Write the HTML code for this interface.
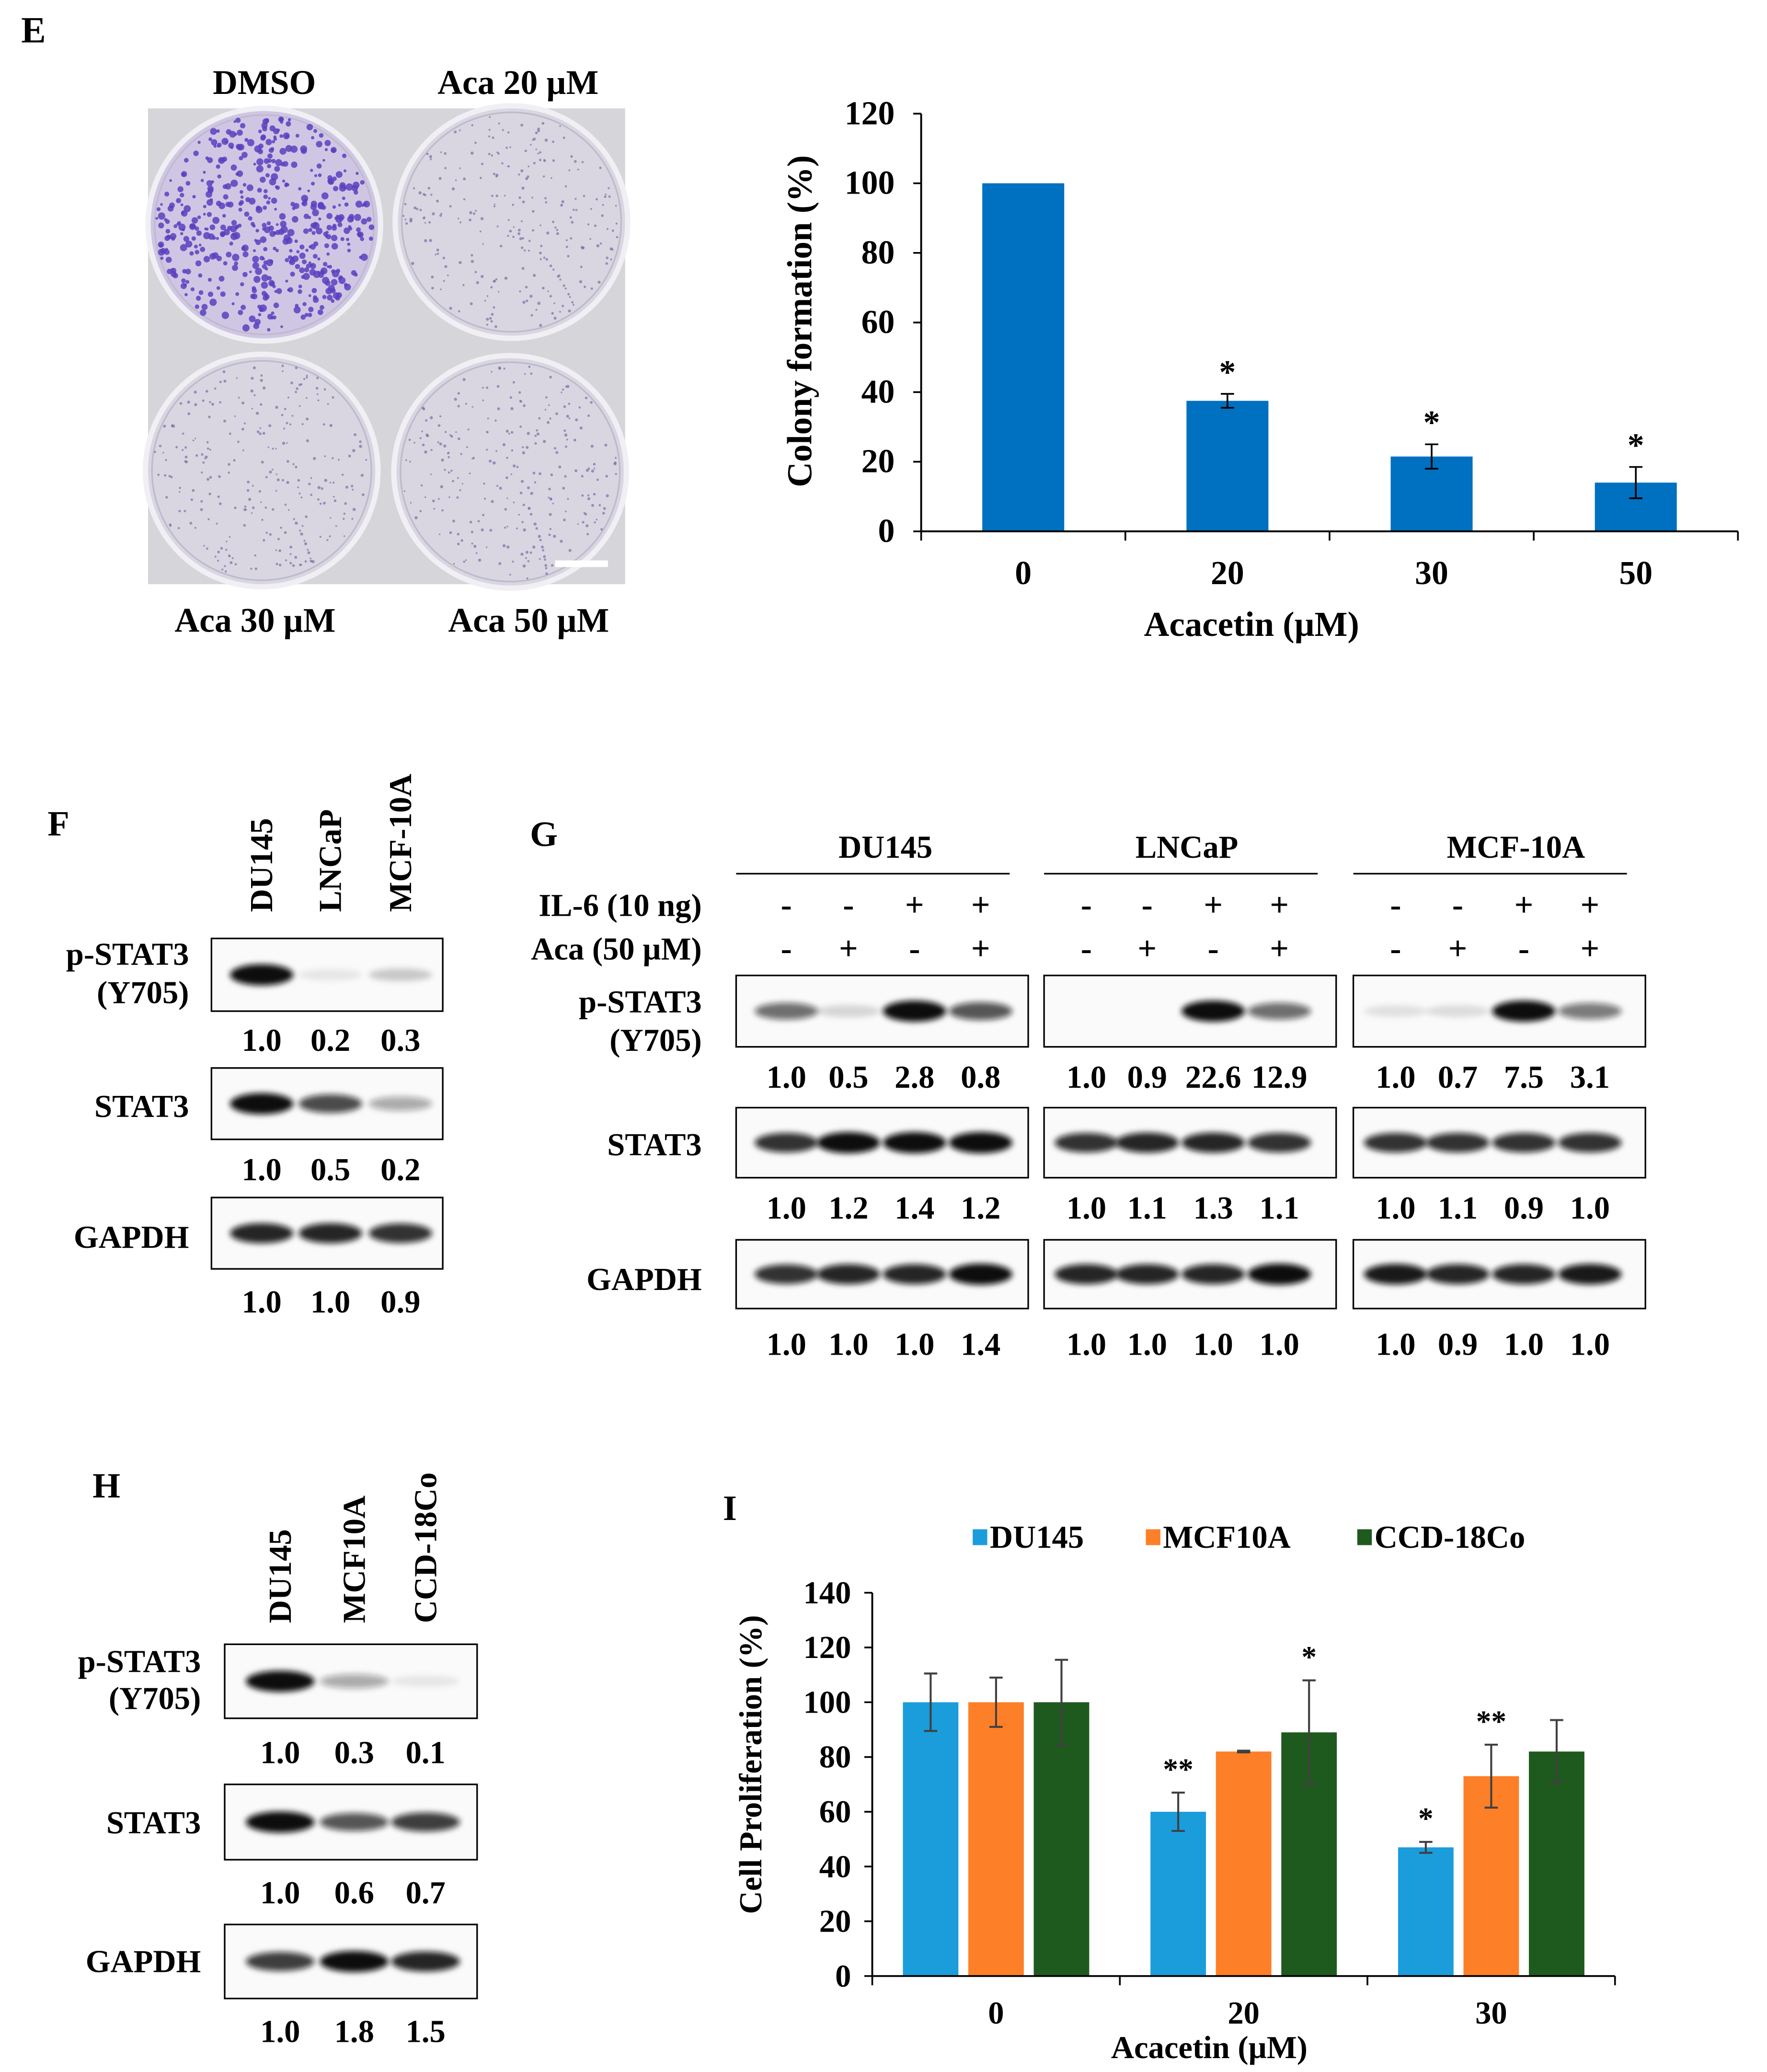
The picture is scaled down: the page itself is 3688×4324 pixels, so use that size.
<!DOCTYPE html>
<html><head><meta charset="utf-8"><style>
html,body{margin:0;padding:0;background:#fff;}
svg{display:block;}
text{font-family:"Liberation Serif",serif;font-weight:bold;fill:#000;}
</style></head><body>
<svg id="fig" width="3688" height="4324" viewBox="0 0 1337 1567.6" preserveAspectRatio="none" xmlns="http://www.w3.org/2000/svg">
<defs>
<filter id="blur" x="-50%" y="-200%" width="200%" height="500%"><feGaussianBlur stdDeviation="2.2"/></filter>
</defs>
<text x="16" y="32" font-size="28">E</text>
<g id="plate">
<rect x="112" y="82" width="361" height="360" fill="#d6d5da"/>
</g>
<text x="200" y="71" font-size="26" text-anchor="middle">DMSO</text>
<text x="392" y="71" font-size="26" text-anchor="middle">Aca 20 µM</text>
<text x="193" y="478" font-size="26" text-anchor="middle">Aca 30 µM</text>
<text x="400" y="478" font-size="26" text-anchor="middle">Aca 50 µM</text>
<g id="chartE"></g>
<text x="36" y="632" font-size="27">F</text>
<text x="401" y="640" font-size="27">G</text>
<text x="70" y="1133" font-size="27">H</text>
<text x="547" y="1150" font-size="27">I</text>
<g id="blots"></g>
<g id="chartI"></g>
</svg>
<script>
const NS="http://www.w3.org/2000/svg";
const FS=1.15;
function mk(parent,tag,attrs,txt){const e=document.createElementNS(NS,tag);for(const k in attrs){let v=attrs[k];if(k==='font-size')v=v*FS;e.setAttribute(k,v);}if(txt!==undefined)e.textContent=txt;parent.appendChild(e);return e;}

// ---------- Plate photo ----------
const plate=document.getElementById('plate');
const dishes=[[200,170,1],[387,168,0.25],[198,356,0.2],[386,357,0.22]];
let seed=7;function rnd(){seed=(seed*9301+49297)%233280;return seed/233280;}
dishes.forEach((d,i)=>{
  const c=mk(plate,'circle',{cx:d[0],cy:d[1],r:88,fill:d[2]>0.5?'#cfc6e4':'#d9d6e2',stroke:'#f0f0f4','stroke-width':4});
  
  
  mk(plate,'circle',{cx:d[0],cy:d[1],r:83,fill:'none',stroke:'#bfbacb','stroke-width':1.2});
  const n=d[2]>0.5?520:260;
  for(let k=0;k<n;k++){const a=rnd()*6.283,r=82*Math.sqrt(rnd());
    mk(plate,'circle',{cx:d[0]+r*Math.cos(a),cy:d[1]+r*Math.sin(a),r:d[2]>0.5?(1+rnd()*1.8):(0.6+rnd()*0.6),fill:d[2]>0.5?'#5c3fbf':'#7a6ea4','fill-opacity':d[2]>0.5?0.85:0.7});}
});
mk(plate,'rect',{x:420,y:424,width:40,height:5,fill:'#fff'});

// ---------- Chart E ----------
const eCats=['0','20','30','50'];
const eVals=[100,37.5,21.5,14];
const eErr=[0,2,3.5,4.5];
const eStars=['','*','*','*'];
const eTicks=[0,20,40,60,80,100,120];
(function(){
  const g=document.getElementById('chartE');
  const x0=697,x1=1315,y0=402,y1=86,ymax=120;
  const Y=v=>y0-(v/ymax)*(y0-y1);
  const step=(x1-x0)/eCats.length;const X=i=>x0+step*(i+0.5);
  eVals.forEach((v,i)=>{
    const b=mk(g,'rect',{x:X(i)-31,y:Y(v),width:62,height:y0-Y(v),fill:'#0070c0'});
    
    
    if(eErr[i]>0){mk(g,'path',{d:`M${X(i)},${Y(v+eErr[i])}V${Y(v-eErr[i])}M${X(i)-5},${Y(v+eErr[i])}H${X(i)+5}M${X(i)-5},${Y(v-eErr[i])}H${X(i)+5}`,stroke:'#000','stroke-width':1.3,fill:'none'});}
    if(eStars[i]){const s=mk(g,'text',{x:X(i),y:Y(v+eErr[i])-8,'font-size':22,'text-anchor':'middle'},eStars[i]);
      }
    const t=mk(g,'text',{x:X(i),y:442,'font-size':22,'text-anchor':'middle'},eCats[i]);
    
  });
  mk(g,'path',{d:`M${x0},${y1}V${y0}H${x1}`,stroke:'#000','stroke-width':1.4,fill:'none'});
  for(let i=0;i<=eCats.length;i++)mk(g,'line',{x1:x0+step*i,x2:x0+step*i,y1:y0,y2:y0+7,stroke:'#000','stroke-width':1.3});
  eTicks.forEach(t=>{mk(g,'line',{x1:x0-6,x2:x0,y1:Y(t),y2:Y(t),stroke:'#000','stroke-width':1.3});
    const l=mk(g,'text',{x:x0-20,y:Y(t)+8,'font-size':22,'text-anchor':'end'},t);
    });
  const yt=mk(g,'text',{x:0,y:0,'font-size':23,'text-anchor':'middle',transform:`translate(614,243) rotate(-90)`},'Colony formation (%)');
  
  const xt=mk(g,'text',{x:947,y:481,'font-size':23,'text-anchor':'middle'},'Acacetin (µM)');
  
})();

// ---------- Blots ----------
const bl=document.getElementById('blots');
function txt(x,y,s,size,anchor,name){const t=mk(bl,'text',{x:x,y:y,'font-size':size,'text-anchor':anchor||'middle'},s);return t;}
function box(x,y,w,h,lanes,ints,name,bw){
  const r=mk(bl,'rect',{x:x,y:y,width:w,height:h,fill:'#fafafa',stroke:'#000','stroke-width':1.2});
  
  lanes.forEach((lx,i)=>{if(ints[i]<=0.02)return;
    mk(bl,'ellipse',{cx:lx,cy:y+h/2,rx:bw||24,ry:4+4*Math.min(1,ints[i]),fill:'#111','fill-opacity':Math.min(1,ints[i]),filter:'url(#blur)'});});
}
// F
const fLanes=[198,250,303];
[['DU145',198],['LNCaP',250],['MCF-10A',303]].forEach(l=>{const t=txt(0,0,l[0],21,'start','lane-label');t.setAttribute('transform',`translate(${l[1]+8},690) rotate(-90)`);});
txt(143,730,'p-STAT3',21,'end','row-label-pstat3');txt(143,759,'(Y705)',21,'end','row-label-y705');
box(160,710,175,55,fLanes,[1,0.08,0.2],'blot-f-pstat3');
['1.0','0.2','0.3'].forEach((s,i)=>txt(fLanes[i],795,s,21,'middle','band-value'));
txt(143,845,'STAT3',21,'end','row-label-stat3');
box(160,808,175,54,fLanes,[1,0.75,0.35],'blot-f-stat3');
['1.0','0.5','0.2'].forEach((s,i)=>txt(fLanes[i],893,s,21,'middle','band-value'));
txt(143,944,'GAPDH',21,'end','row-label-gapdh');
box(160,906,175,54,fLanes,[0.9,0.9,0.85],'blot-f-gapdh');
['1.0','1.0','0.9'].forEach((s,i)=>txt(fLanes[i],993,s,21,'middle','band-value'));
// G
const gGroups=[{n:'DU145',x:557,lanes:[595,642,692,742],cx:670,
  p:[0.6,0.15,1,0.7],s:[0.85,1,1,1],g:[0.85,0.9,0.9,1],pv:['1.0','0.5','2.8','0.8'],sv:['1.0','1.2','1.4','1.2'],gv:['1.0','1.0','1.0','1.4']},
 {n:'LNCaP',x:790,lanes:[822,868,918,968],cx:898,
  p:[0,0,1,0.6],s:[0.85,0.9,0.9,0.85],g:[0.9,0.9,0.9,1],pv:['1.0','0.9','22.6','12.9'],sv:['1.0','1.1','1.3','1.1'],gv:['1.0','1.0','1.0','1.0']},
 {n:'MCF-10A',x:1024,lanes:[1056,1103,1153,1203],cx:1147,
  p:[0.1,0.12,1,0.55],s:[0.85,0.85,0.85,0.85],g:[0.95,0.9,0.9,0.95],pv:['1.0','0.7','7.5','3.1'],sv:['1.0','1.1','0.9','1.0'],gv:['1.0','0.9','1.0','1.0']}];
txt(531,693,'IL-6 (10 ng)',21,'end','row-label-il6');
txt(531,726,'Aca (50 µM)',21,'end','row-label-aca');
txt(531,766,'p-STAT3',21,'end','row-label-pstat3');txt(531,795,'(Y705)',21,'end','row-label-y705');
txt(531,874,'STAT3',21,'end','row-label-stat3');
txt(531,976,'GAPDH',21,'end','row-label-gapdh');
const il6=['-','-','+','+'],aca=['-','+','-','+'];
gGroups.forEach(G=>{
  txt(G.cx,649,G.n,21,'middle','group-header');
  mk(bl,'line',{x1:G.x,x2:G.x+207,y1:661,y2:661,stroke:'#000','stroke-width':1.2});
  G.lanes.forEach((lx,i)=>{txt(lx,693,il6[i],22,'middle','il6-sign');txt(lx,726,aca[i],22,'middle','aca-sign');});
  box(G.x,738,221,54,G.lanes,G.p,'blot-g-pstat3');
  G.pv.forEach((s,i)=>txt(G.lanes[i],823,s,21,'middle','band-value'));
  box(G.x,838,221,53,G.lanes,G.s,'blot-g-stat3');
  G.sv.forEach((s,i)=>txt(G.lanes[i],922,s,21,'middle','band-value'));
  box(G.x,938,221,52,G.lanes,G.g,'blot-g-gapdh');
  G.gv.forEach((s,i)=>txt(G.lanes[i],1025,s,21,'middle','band-value'));
});
// H
const hLanes=[212,268,322];
[['DU145',212],['MCF10A',268],['CCD-18Co',322]].forEach(l=>{const t=txt(0,0,l[0],21,'start','lane-label');t.setAttribute('transform',`translate(${l[1]+8},1228) rotate(-90)`);});
txt(152,1265,'p-STAT3',21,'end','row-label-pstat3');txt(152,1293,'(Y705)',21,'end','row-label-y705');
box(170,1244,191,56,hLanes,[1,0.35,0.08],'blot-h-pstat3',26);
['1.0','0.3','0.1'].forEach((s,i)=>txt(hLanes[i],1334,s,21,'middle','band-value'));
txt(152,1387,'STAT3',21,'end','row-label-stat3');
box(170,1350,191,57,hLanes,[1,0.7,0.8],'blot-h-stat3',26);
['1.0','0.6','0.7'].forEach((s,i)=>txt(hLanes[i],1440,s,21,'middle','band-value'));
txt(152,1492,'GAPDH',21,'end','row-label-gapdh');
box(170,1456,191,56,hLanes,[0.8,1,0.9],'blot-h-gapdh',26);
['1.0','1.8','1.5'].forEach((s,i)=>txt(hLanes[i],1545,s,21,'middle','band-value'));

// ---------- Chart I ----------
const iCats=['0','20','30'];
const iSeries=['DU145','MCF10A','CCD-18Co'];
const iColors=['#1b9ddb','#fd7f28','#1e5a1e'];
const iDU145=[100,60,47];
const iMCF10A=[100,82,73];
const iCCD=[100,89,82];
const iErrDU145=[10.5,7,2];
const iErrMCF10A=[9,0.3,11.5];
const iErrCCD=[15.5,19,11.5];
const iStarsDU145=['','**','*'];
const iStarsMCF10A=['','','**'];
const iStarsCCD=['','*',''];
const iTicks=[0,20,40,60,80,100,120,140];
(function(){
  const g=document.getElementById('chartI');
  const x0=660,x1=1222,y0=1495,y1=1205,ymax=140;
  const Y=v=>y0-(v/ymax)*(y0-y1);
  const step=(x1-x0)/iCats.length;const X=i=>x0+step*(i+0.5);
  const vals=[iDU145,iMCF10A,iCCD],errs=[iErrDU145,iErrMCF10A,iErrCCD],stars=[iStarsDU145,iStarsMCF10A,iStarsCCD];
  const off=[-49.5,0,49.5];
  vals.forEach((ser,s)=>ser.forEach((v,i)=>{
    const cx=X(i)+off[s];
    const b=mk(g,'rect',{x:cx-21,y:Y(v),width:42,height:y0-Y(v),fill:iColors[s]});
    
    
    const e=errs[s][i];
    mk(g,'path',{d:`M${cx},${Y(v+e)}V${Y(v-e)}M${cx-5},${Y(v+e)}H${cx+5}M${cx-5},${Y(v-e)}H${cx+5}`,stroke:'#404040','stroke-width':1.5,fill:'none'});
    if(stars[s][i]){const t=mk(g,'text',{x:cx,y:Y(v+e)-10,'font-size':20,'text-anchor':'middle'},stars[s][i]);
      }
  }));
  mk(g,'path',{d:`M${x0},${y1}V${y0}H${x1}`,stroke:'#000','stroke-width':1.4,fill:'none'});
  for(let i=0;i<=iCats.length;i++)mk(g,'line',{x1:x0+step*i,x2:x0+step*i,y1:y0,y2:y0+7,stroke:'#000','stroke-width':1.3});
  iCats.forEach((c,i)=>{const t=mk(g,'text',{x:X(i),y:1531,'font-size':21,'text-anchor':'middle'},c);
    });
  iTicks.forEach(t=>{mk(g,'line',{x1:x0-6,x2:x0,y1:Y(t),y2:Y(t),stroke:'#000','stroke-width':1.3});
    const l=mk(g,'text',{x:x0-16,y:Y(t)+8,'font-size':21,'text-anchor':'end'},t);
    });
  const yt=mk(g,'text',{x:0,y:0,'font-size':21,'text-anchor':'middle',transform:`translate(576,1335) rotate(-90)`},'Cell Proliferation (%)');
  
  const xt=mk(g,'text',{x:915,y:1557,'font-size':21,'text-anchor':'middle'},'Acacetin (µM)');
  
  const lx=[741,872,1032];
  iSeries.forEach((n,s)=>{
    const r=mk(g,'rect',{x:lx[s]-5,y:1157,width:11,height:12,fill:iColors[s]});
    
    const t=mk(g,'text',{x:lx[s]+8,y:1171,'font-size':21},n);
    
  });
})();
</script>
</body></html>
